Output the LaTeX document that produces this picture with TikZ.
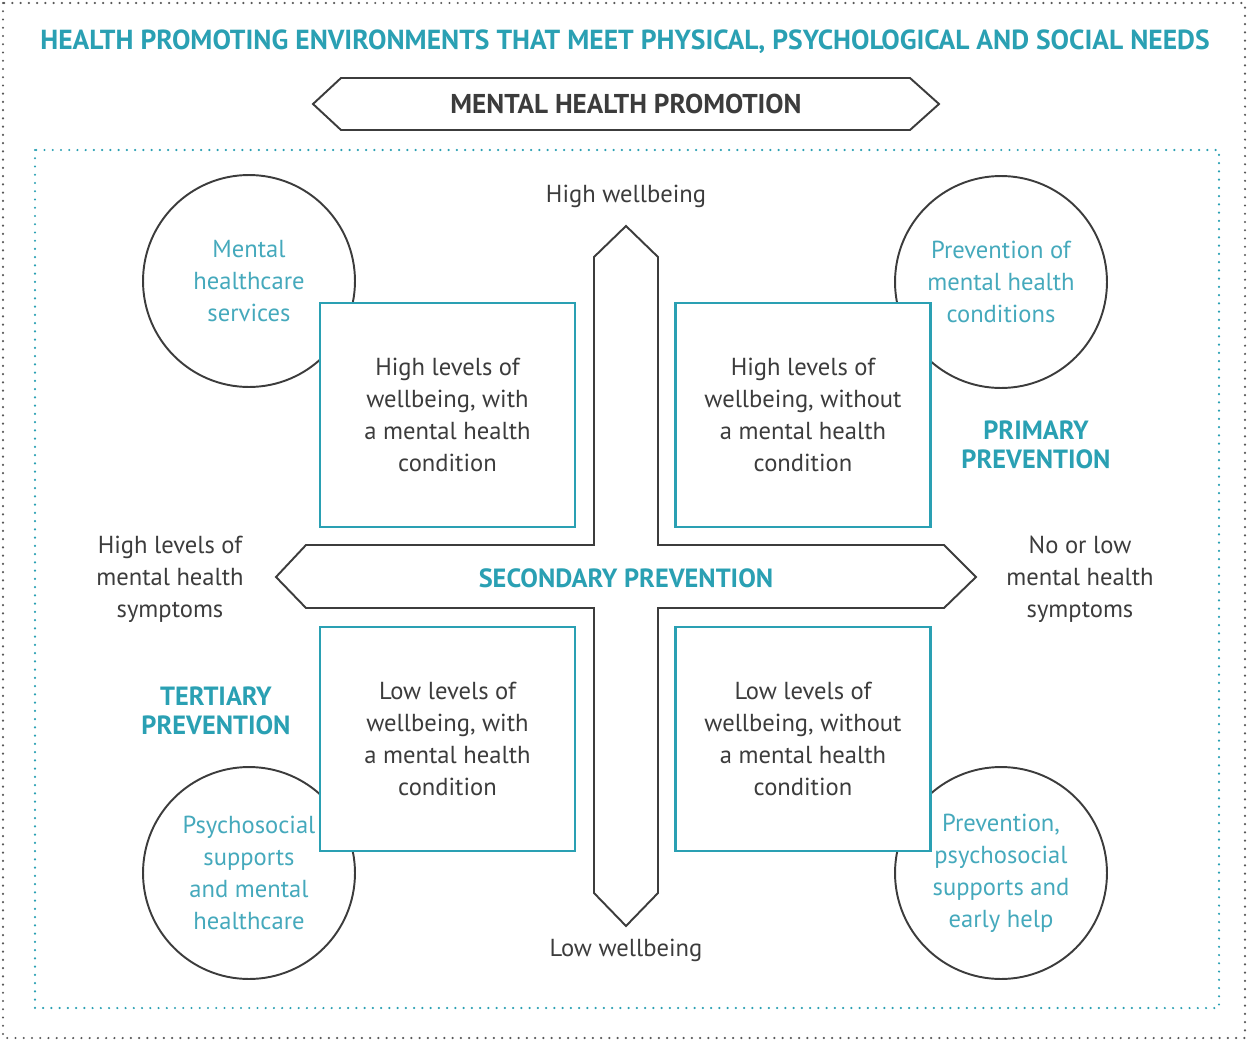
\documentclass[tikz,border=0pt]{standalone}
\usepackage{fontspec}
\setmainfont{PT Sans}
\usetikzlibrary{positioning}

\definecolor{tealdark}{HTML}{2AA0B3}
\definecolor{teallight}{HTML}{45A9BC}
\definecolor{inkgrey}{HTML}{3C3C3C}

\begin{document}
\begin{tikzpicture}[x=0.02cm, y=-0.02cm,
  ring/.style={circle, draw=inkgrey, line width=1.1pt, minimum size=4.24cm,
    text=teallight, align=center, font=\fontsize{14}{18.2}\selectfont},
  quad/.style={draw=tealdark, fill=white, line width=1.3pt, minimum width=5.1cm,
    minimum height=4.48cm, align=center, text=inkgrey, font=\fontsize{14}{18.2}\selectfont},
  axis/.style={text=inkgrey, align=center, font=\fontsize{14}{18.2}\selectfont},
  tag/.style={text=tealdark, align=center, font=\bfseries\fontsize{15}{16.5}\selectfont},
  dotline/.style={line cap=round, line width=1.4pt, dash pattern=on 0pt off 0.165cm}]

  \useasboundingbox (0,0) rectangle (1248,1041);

  % frames
  \draw[dotline, inkgrey!85] (3,3) rectangle (1245,1038);
  \draw[dotline, tealdark] (35,150) rectangle (1219,1008);

  \node[text=tealdark, font=\bfseries\fontsize{15.7}{18}\selectfont] (title) at (625,42)
    {HEALTH PROMOTING ENVIRONMENTS THAT MEET PHYSICAL, PSYCHOLOGICAL AND SOCIAL NEEDS};

  % promotion banner
  \draw[inkgrey, line width=1.1pt] (313,104) -- (341,78) -- (910,78) -- (939,104)
    -- (910,130) -- (341,130) -- cycle;
  \node[text=inkgrey, font=\bfseries\fontsize{15.5}{16.5}\selectfont] (promo) at (626,104)
    {MENTAL HEALTH PROMOTION};

  % circles
  \node[ring] (mhs) at (249,281) {Mental\\healthcare\\services};
  \node[ring] (prev) at (1001,282) {Prevention of\\mental health\\conditions};
  \node[ring] (psy) at (249,873) {Psychosocial\\supports\\and mental\\healthcare};
  \node[ring] (early) at (1001,873) {Prevention,\\psychosocial\\supports and\\early help};

  % cross of the two axes
  \draw[inkgrey, line width=1.1pt] (626,226) -- (658,257) -- (658,545) -- (944,545)
    -- (976,577) -- (944,608) -- (658,608) -- (658,893) -- (626,926) -- (594,893)
    -- (594,608) -- (306,608) -- (276,577) -- (306,545) -- (594,545) -- (594,257) -- cycle;

  % quadrants
  \node[quad] (hw) at (447.5,415) {High levels of\\wellbeing, with\\a mental health\\condition};
  \node[quad] (hwo) at (803,415) {High levels of\\wellbeing, without\\a mental health\\condition};
  \node[quad] (lw) at (447.5,739) {Low levels of\\wellbeing, with\\a mental health\\condition};
  \node[quad] (lwo) at (803,739) {Low levels of\\wellbeing, without\\a mental health\\condition};

  % axis labels
  \node[axis] (top) at (626,196) {High wellbeing};
  \node[axis] (bottom) at (626,950) {Low wellbeing};
  \node[axis] (left) at (170,579) {High levels of\\mental health\\symptoms};
  \node[axis] (right) at (1080,579) {No or low\\mental health\\symptoms};

  \node[tag] (second) at (626,578) {SECONDARY PREVENTION};
  \node[tag] (primary) at (1036,445) {PRIMARY\\PREVENTION};
  \node[tag] (tertiary) at (216,711) {TERTIARY\\PREVENTION};
\end{tikzpicture}
\end{document}
